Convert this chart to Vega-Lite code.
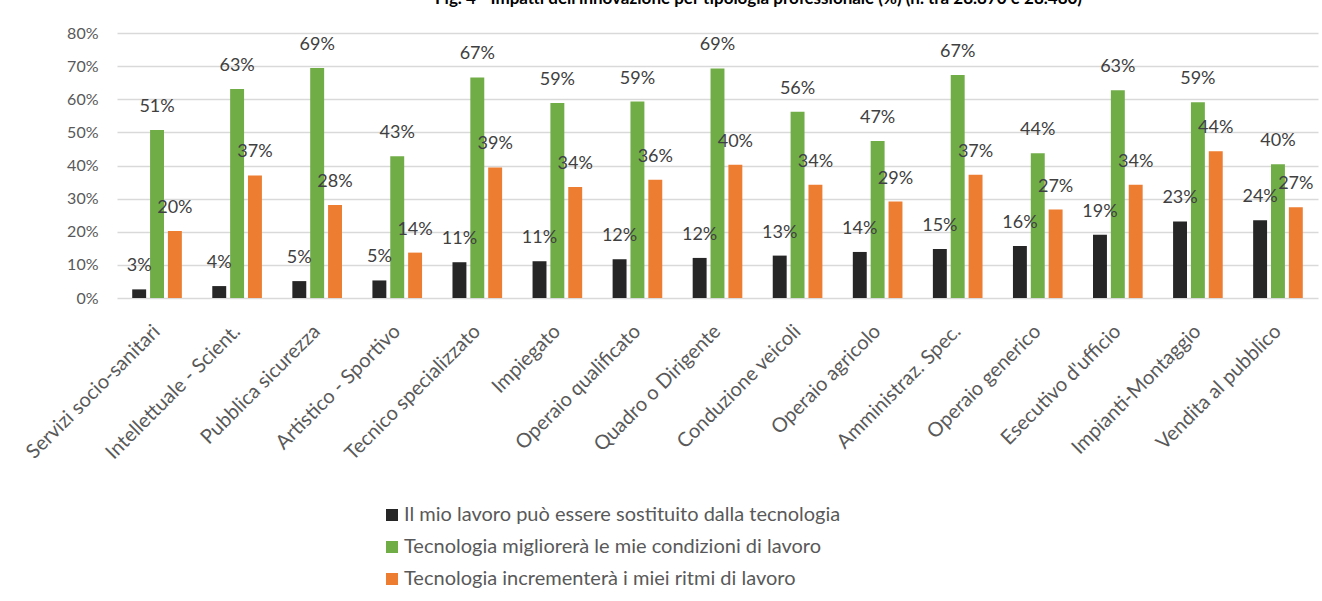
{
  "$schema": "https://vega.github.io/schema/vega-lite/v6.json",
  "autosize": "none",
  "width": 1201,
  "height": 265,
  "padding": {"left": 117, "top": 33, "right": 4, "bottom": 303},
  "background": "white",
  "title": {
    "text": "Fig. 4 - Impatti dell'innovazione per tipologia professionale (%) (n. tra 28.870 e 28.480)",
    "font": "Lato",
    "fontSize": 17,
    "fontWeight": "bold",
    "color": "#000000",
    "anchor": "middle",
    "frame": "group",
    "dx": 41,
    "offset": 17
  },
  "data": {
    "values": [
      {"cat": "Servizi socio-sanitari", "s": "Il mio lavoro può essere sostituito dalla tecnologia", "v": 2.6},
      {"cat": "Servizi socio-sanitari", "s": "Tecnologia migliorerà le mie condizioni di lavoro", "v": 50.7},
      {"cat": "Servizi socio-sanitari", "s": "Tecnologia incrementerà i miei ritmi di lavoro", "v": 20.2},
      {"cat": "Intellettuale - Scient.", "s": "Il mio lavoro può essere sostituito dalla tecnologia", "v": 3.6},
      {"cat": "Intellettuale - Scient.", "s": "Tecnologia migliorerà le mie condizioni di lavoro", "v": 63.1},
      {"cat": "Intellettuale - Scient.", "s": "Tecnologia incrementerà i miei ritmi di lavoro", "v": 37.0},
      {"cat": "Pubblica sicurezza", "s": "Il mio lavoro può essere sostituito dalla tecnologia", "v": 5.1},
      {"cat": "Pubblica sicurezza", "s": "Tecnologia migliorerà le mie condizioni di lavoro", "v": 69.4},
      {"cat": "Pubblica sicurezza", "s": "Tecnologia incrementerà i miei ritmi di lavoro", "v": 28.1},
      {"cat": "Artistico - Sportivo", "s": "Il mio lavoro può essere sostituito dalla tecnologia", "v": 5.3},
      {"cat": "Artistico - Sportivo", "s": "Tecnologia migliorerà le mie condizioni di lavoro", "v": 42.8},
      {"cat": "Artistico - Sportivo", "s": "Tecnologia incrementerà i miei ritmi di lavoro", "v": 13.7},
      {"cat": "Tecnico specializzato", "s": "Il mio lavoro può essere sostituito dalla tecnologia", "v": 10.8},
      {"cat": "Tecnico specializzato", "s": "Tecnologia migliorerà le mie condizioni di lavoro", "v": 66.6},
      {"cat": "Tecnico specializzato", "s": "Tecnologia incrementerà i miei ritmi di lavoro", "v": 39.4},
      {"cat": "Impiegato", "s": "Il mio lavoro può essere sostituito dalla tecnologia", "v": 11.1},
      {"cat": "Impiegato", "s": "Tecnologia migliorerà le mie condizioni di lavoro", "v": 58.9},
      {"cat": "Impiegato", "s": "Tecnologia incrementerà i miei ritmi di lavoro", "v": 33.5},
      {"cat": "Operaio qualificato", "s": "Il mio lavoro può essere sostituito dalla tecnologia", "v": 11.7},
      {"cat": "Operaio qualificato", "s": "Tecnologia migliorerà le mie condizioni di lavoro", "v": 59.3},
      {"cat": "Operaio qualificato", "s": "Tecnologia incrementerà i miei ritmi di lavoro", "v": 35.7},
      {"cat": "Quadro o Dirigente", "s": "Il mio lavoro può essere sostituito dalla tecnologia", "v": 12.1},
      {"cat": "Quadro o Dirigente", "s": "Tecnologia migliorerà le mie condizioni di lavoro", "v": 69.3},
      {"cat": "Quadro o Dirigente", "s": "Tecnologia incrementerà i miei ritmi di lavoro", "v": 40.2},
      {"cat": "Conduzione veicoli", "s": "Il mio lavoro può essere sostituito dalla tecnologia", "v": 12.8},
      {"cat": "Conduzione veicoli", "s": "Tecnologia migliorerà le mie condizioni di lavoro", "v": 56.2},
      {"cat": "Conduzione veicoli", "s": "Tecnologia incrementerà i miei ritmi di lavoro", "v": 34.2},
      {"cat": "Operaio agricolo", "s": "Il mio lavoro può essere sostituito dalla tecnologia", "v": 13.9},
      {"cat": "Operaio agricolo", "s": "Tecnologia migliorerà le mie condizioni di lavoro", "v": 47.4},
      {"cat": "Operaio agricolo", "s": "Tecnologia incrementerà i miei ritmi di lavoro", "v": 29.1},
      {"cat": "Amministraz. Spec.", "s": "Il mio lavoro può essere sostituito dalla tecnologia", "v": 14.8},
      {"cat": "Amministraz. Spec.", "s": "Tecnologia migliorerà le mie condizioni di lavoro", "v": 67.3},
      {"cat": "Amministraz. Spec.", "s": "Tecnologia incrementerà i miei ritmi di lavoro", "v": 37.2},
      {"cat": "Operaio generico", "s": "Il mio lavoro può essere sostituito dalla tecnologia", "v": 15.7},
      {"cat": "Operaio generico", "s": "Tecnologia migliorerà le mie condizioni di lavoro", "v": 43.7},
      {"cat": "Operaio generico", "s": "Tecnologia incrementerà i miei ritmi di lavoro", "v": 26.7},
      {"cat": "Esecutivo d'ufficio", "s": "Il mio lavoro può essere sostituito dalla tecnologia", "v": 19.1},
      {"cat": "Esecutivo d'ufficio", "s": "Tecnologia migliorerà le mie condizioni di lavoro", "v": 62.7},
      {"cat": "Esecutivo d'ufficio", "s": "Tecnologia incrementerà i miei ritmi di lavoro", "v": 34.2},
      {"cat": "Impianti-Montaggio", "s": "Il mio lavoro può essere sostituito dalla tecnologia", "v": 23.1},
      {"cat": "Impianti-Montaggio", "s": "Tecnologia migliorerà le mie condizioni di lavoro", "v": 59.1},
      {"cat": "Impianti-Montaggio", "s": "Tecnologia incrementerà i miei ritmi di lavoro", "v": 44.3},
      {"cat": "Vendita al pubblico", "s": "Il mio lavoro può essere sostituito dalla tecnologia", "v": 23.5},
      {"cat": "Vendita al pubblico", "s": "Tecnologia migliorerà le mie condizioni di lavoro", "v": 40.4},
      {"cat": "Vendita al pubblico", "s": "Tecnologia incrementerà i miei ritmi di lavoro", "v": 27.4}
    ]
  },
  "transform": [
    {"calculate": "format(datum.v, '.0f') + '%'", "as": "lbl"}
  ],
  "encoding": {
    "x": {
      "field": "cat",
      "type": "nominal",
      "sort": null,
      "scale": {"paddingInner": 0.38, "paddingOuter": 0.19},
      "axis": {
        "title": null,
        "labelAngle": -45,
        "labelAlign": "right",
        "labelBaseline": "middle",
        "labelFont": "Lato",
        "labelFontSize": 20,
        "labelColor": "#595959",
        "labelPadding": 30,
        "labelLimit": 400,
        "ticks": false,
        "domain": false,
        "grid": false
      }
    },
    "xOffset": {
      "field": "s",
      "type": "nominal",
      "sort": null,
      "scale": {"paddingInner": 0.22}
    },
    "y": {
      "field": "v",
      "type": "quantitative",
      "scale": {"domain": [0, 80], "nice": false},
      "axis": {
        "title": null,
        "values": [0, 10, 20, 30, 40, 50, 60, 70, 80],
        "labelExpr": "datum.value + '%'",
        "labelFont": "Lato",
        "labelFontSize": 16,
        "labelColor": "#595959",
        "labelPadding": 19,
        "ticks": false,
        "domain": false,
        "gridColor": "#D9D9D9",
        "gridWidth": 1.5
      }
    }
  },
  "layer": [
    {
      "mark": {"type": "bar"},
      "encoding": {
        "color": {
          "field": "s",
          "type": "nominal",
          "sort": null,
          "scale": {"range": ["#262626", "#70AD47", "#ED7D31"]},
          "legend": {
            "title": null,
            "orient": "none",
            "legendX": 265,
            "legendY": 472,
            "direction": "vertical",
            "symbolType": "square",
            "symbolSize": 144,
            "symbolStrokeWidth": 0,
            "labelFont": "Lato",
            "labelFontSize": 20,
            "labelColor": "#595959",
            "labelOffset": 2,
            "rowPadding": 12,
            "labelLimit": 800
          }
        }
      }
    },
    {
      "mark": {"type": "text", "baseline": "alphabetic", "dy": -18, "font": "Lato", "fontSize": 18, "color": "#404040"},
      "encoding": {
        "text": {"field": "lbl", "type": "nominal"}
      }
    }
  ],
  "config": {"view": {"stroke": null}}
}
